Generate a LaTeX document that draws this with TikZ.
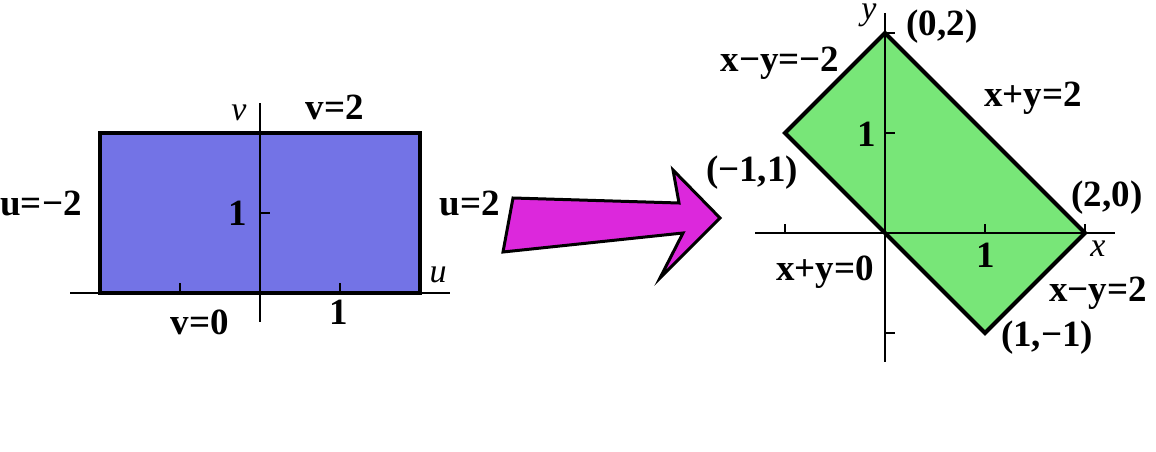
\documentclass[tikz,border=0pt]{standalone}
\usepackage{fontspec}
\setmainfont{Liberation Serif}
\newfontfamily\tms{Liberation Serif}
\definecolor{rectblue}{RGB}{115,115,230}
\definecolor{diagreen}{RGB}{120,230,120}
\definecolor{arrmag}{RGB}{220,40,220}
\begin{document}
\begin{tikzpicture}[x=1pt,y=-1pt,
  lbl/.style={font=\tms\fontsize{37}{42}\selectfont\bfseries, inner sep=0pt},
  axlbl/.style={font=\tms\fontsize{34}{38}\selectfont\itshape, inner sep=0pt},
  axis/.style={line width=2.6pt},
  border/.style={line width=4pt, line join=miter},
  tick/.style={line width=2.2pt}]
\useasboundingbox (0,0) rectangle (1156,452);
% ---------- left panel ----------
\coordinate (A) at (100,133);
\coordinate (B) at (420,133);
\coordinate (C) at (420,293);
\coordinate (D) at (100,293);
\fill[rectblue] (A) -- (B) -- (C) -- (D) -- cycle;
\draw[axis] (70,293) -- (450,293);
\draw[axis] (260,103) -- (260,322);
\draw[tick] (180,293) -- (180,283);
\draw[tick] (340,293) -- (340,283);
\draw[tick] (260,213) -- (270,213);
\draw[border] (A) -- (B) -- (C) -- (D) -- cycle;
\node[axlbl] (lv) at (239,113) {v};
\node[axlbl] (lu) at (438,275) {u};
\node[lbl] (v2) at (335,107) {v=2};
\node[lbl] (um2) at (41,203) {u=−2};
\node[lbl] (u2) at (470,203) {u=2};
\node[lbl] (v0) at (200,322) {v=0};
\node[lbl] (one1) at (238,213) {1};
\node[lbl] (one2) at (339,312) {1};
% ---------- arrow ----------
\draw[line width=3pt, fill=arrmag, line join=miter]
  (513,198) -- (679,203) -- (673,170) -- (720,218) -- (660,278) -- (683,233) -- (503,252) -- cycle;
% ---------- right panel ----------
\coordinate (P02) at (885,33);
\coordinate (P20) at (1085,233);
\coordinate (P1m1) at (985,333);
\coordinate (Pm11) at (785,133);
\coordinate (O) at (885,233);
\fill[diagreen] (P02) -- (P20) -- (P1m1) -- (O) -- (Pm11) -- cycle;
\draw[axis] (755,233) -- (1115,233);
\draw[axis] (885,13) -- (885,362);
\draw[tick] (785,233) -- (785,224);
\draw[tick] (985,233) -- (985,224);
\draw[tick] (1085,233) -- (1085,224);
\draw[tick] (885,133) -- (895,133);
\draw[tick] (885,333) -- (895,333);
\draw[tick] (885,33) -- (895,33);
\draw[border] (P02) -- (P20) -- (P1m1) -- (O) -- (Pm11) -- cycle;
\node[axlbl, anchor=north] (ly) at (869,4) {y};
\node[axlbl] (lx) at (1098,249) {x};
\node[lbl] (t02) at (942,27) {(0,2)};
\node[lbl] (tm11) at (752,173) {(−1,1)};
\node[lbl] (t20) at (1107,198) {(2,0)};
\node[lbl] (t1m1) at (1047,338) {(1,−1)};
\node[lbl] (e1) at (780,63) {x−y=−2};
\node[lbl] (e2) at (1033,98) {x+y=2};
\node[lbl] (e3) at (825,272) {x+y=0};
\node[lbl] (e4) at (1098,293) {x−y=2};
\node[lbl] (one3) at (867,134) {1};
\node[lbl] (one4) at (986,255) {1};
\end{tikzpicture}
\end{document}
